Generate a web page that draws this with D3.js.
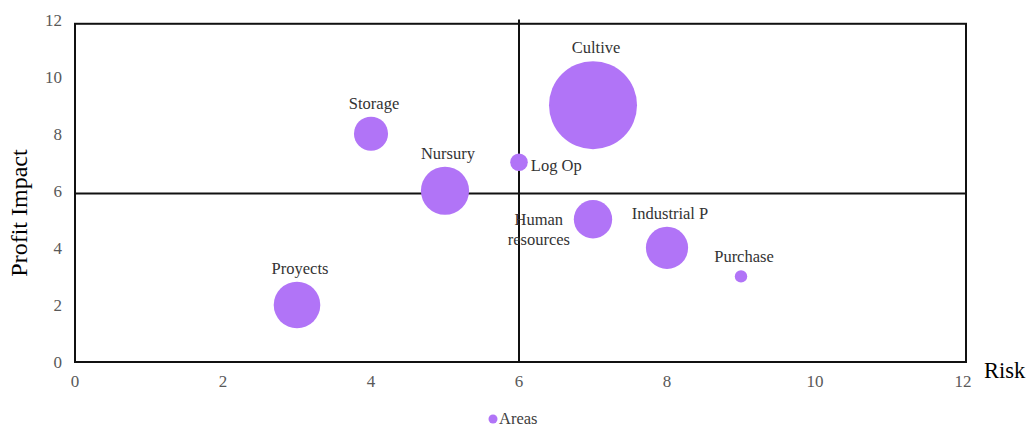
<!DOCTYPE html>
<html>
<head>
<meta charset="utf-8">
<script src="https://cdn.jsdelivr.net/npm/d3@7"></script>
<style>
  body { margin: 0; background: #fff; }
  text { font-family: "Liberation Serif", "Times New Roman", serif; }
</style>
</head>
<body>
<script>
// chart data
var areas = ["Proyects", "Storage", "Nursury", "Log Op", "Cultive", "Human resources", "Industrial P", "Purchase"];
var risk = [3, 4, 5, 6, 7, 7, 8, 9];
var impact = [2, 8, 6, 7, 9, 5, 4, 3];
var bubbleSize = [28, 15, 30, 4, 100, 19, 23, 2];
var labelSide = ["above", "above", "above", "right", "above", "left", "above", "above"];
var tickValues = [0, 2, 4, 6, 8, 10, 12];

var w = 1032;
var h = 428;
var color = "#b174f7";

var svg = d3.select("body")
  .append("svg")
  .attr("width", w)
  .attr("height", h);

var xScale = d3.scaleLinear().domain([0, 12]).range([75, 963]);
var yScale = d3.scaleLinear().domain([0, 12]).range([362, 19.5]);
var rScale = d3.scaleSqrt().domain([0, 100]).range([0, 44]);

// tick labels (no axis lines, Excel style)
svg.append("g")
  .selectAll("text")
  .data(tickValues)
  .enter()
  .append("text")
  .attr("x", 62)
  .attr("y", function(d) { return yScale(d) + 6; })
  .attr("text-anchor", "end")
  .style("font-size", "17px")
  .style("fill", "#595959")
  .text(function(d) { return d; });

svg.append("g")
  .selectAll("text")
  .data(tickValues)
  .enter()
  .append("text")
  .attr("x", function(d) { return xScale(d); })
  .attr("y", 387)
  .attr("text-anchor", "middle")
  .style("font-size", "17px")
  .style("fill", "#595959")
  .text(function(d) { return d; });

// quadrant frame
var frame = svg.append("g")
  .attr("fill", "none")
  .attr("stroke", "#111")
  .attr("stroke-width", 2);

frame.append("rect")
  .attr("x", xScale(0))
  .attr("y", yScale(11.85))
  .attr("width", xScale(12) - xScale(0) + 3)
  .attr("height", yScale(0) - yScale(11.85));

frame.append("line")
  .attr("x1", xScale(6)).attr("x2", xScale(6))
  .attr("y1", yScale(12)).attr("y2", yScale(0));

frame.append("line")
  .attr("x1", xScale(0)).attr("x2", xScale(12) + 3)
  .attr("y1", yScale(5.9)).attr("y2", yScale(5.9));

// bubbles
var points = areas.map(function(a, i) {
  return {name: a, x: risk[i], y: impact[i], s: bubbleSize[i], side: labelSide[i]};
});

svg.selectAll("circle.bubble")
  .data(points)
  .enter()
  .append("circle")
  .attr("class", "bubble")
  .attr("cx", function(d) { return xScale(d.x); })
  .attr("cy", function(d) { return yScale(d.y); })
  .attr("r", function(d) { return rScale(d.s); })
  .attr("fill", color);

// data labels
var labels = svg.selectAll("text.lbl")
  .data(points)
  .enter()
  .append("text")
  .attr("class", "lbl")
  .style("font-size", "16.5px")
  .style("fill", "#333");

labels.each(function(d) {
  var t = d3.select(this);
  var cx = xScale(d.x), cy = yScale(d.y), r = rScale(d.s);
  if (d.side == "above") {
    t.attr("x", cx + 3).attr("y", cy - r - 8).attr("text-anchor", "middle").text(d.name);
  } else if (d.side == "right") {
    t.attr("x", cx + r + 3).attr("y", cy + 9).attr("text-anchor", "start").text(d.name);
  } else {
    var words = d.name.split(" ");
    t.attr("text-anchor", "middle");
    words.forEach(function(wd, k) {
      t.append("tspan")
        .attr("x", cx - r - 35)
        .attr("y", cy + 6 + k * 20)
        .text(wd);
    });
  }
});

// axis titles
svg.append("text")
  .attr("transform", "translate(27, 213) rotate(-90)")
  .attr("text-anchor", "middle")
  .style("font-size", "24px")
  .style("fill", "#000")
  .text("Profit Impact");

svg.append("text")
  .attr("x", 984)
  .attr("y", 378)
  .style("font-size", "22.5px")
  .style("fill", "#000")
  .text("Risk");

// legend
svg.append("circle")
  .attr("cx", 493)
  .attr("cy", 419)
  .attr("r", 4.5)
  .attr("fill", color);

svg.append("text")
  .attr("x", 499)
  .attr("y", 424)
  .style("font-size", "16.5px")
  .style("fill", "#404040")
  .text("Areas");
</script>
</body>
</html>
